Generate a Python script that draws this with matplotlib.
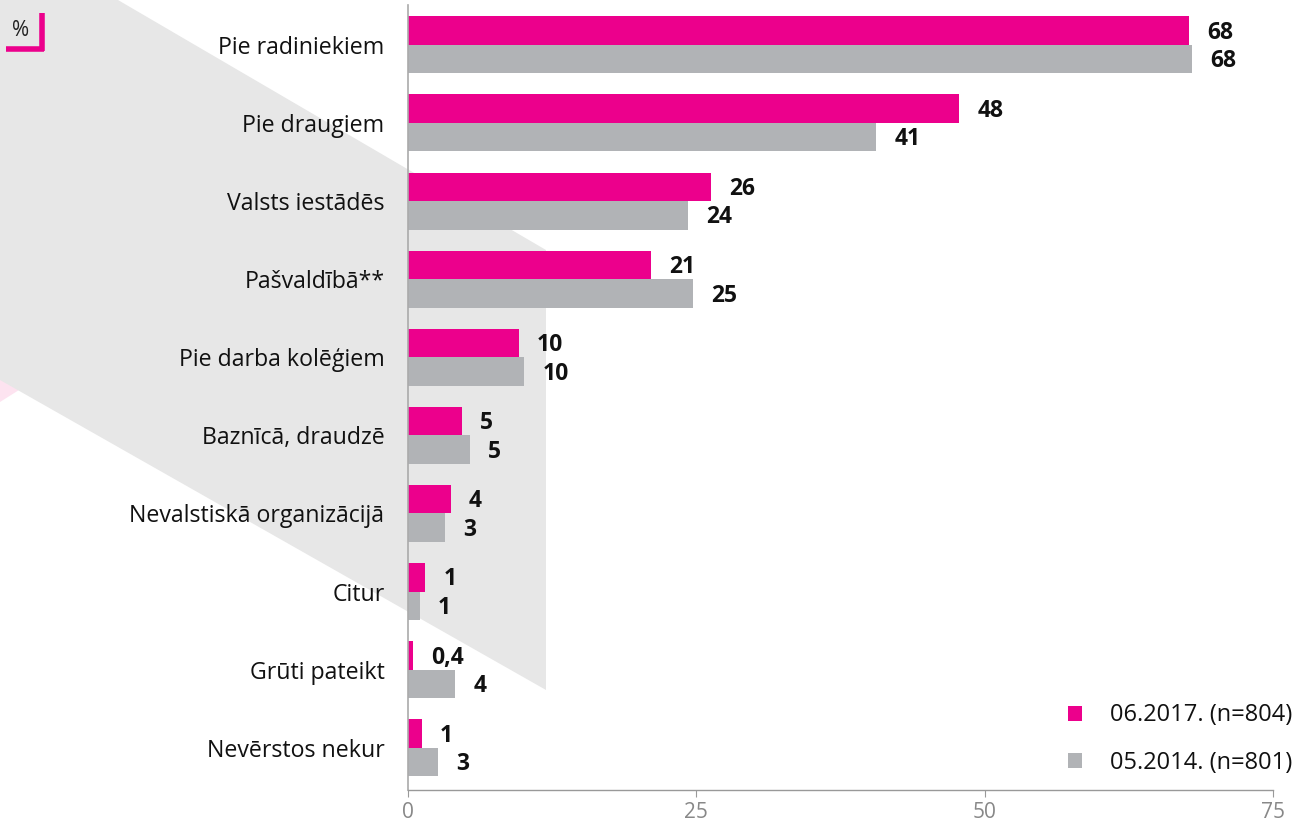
import numpy as np
import matplotlib.pyplot as plt
from matplotlib.patches import Polygon, Patch
from matplotlib.lines import Line2D

categories = ['Pie radiniekiem', 'Pie draugiem', 'Valsts iestādēs', 'Pašvaldībā**',
              'Pie darba kolēģiem', 'Baznīcā, draudzē', 'Nevalstiskā organizācijā',
              'Citur', 'Grūti pateikt', 'Nevērstos nekur']
vals_2017 = [67.7, 47.8, 26.3, 21.1, 9.6, 4.7, 3.7, 1.5, 0.4, 1.2]
vals_2014 = [68.0, 40.6, 24.3, 24.7, 10.1, 5.4, 3.2, 1.0, 4.1, 2.6]
labels_2017 = ['68', '48', '26', '21', '10', '5', '4', '1', '0,4', '1']
labels_2014 = ['68', '41', '24', '25', '10', '5', '3', '1', '4', '3']
series_names = ['06.2017. (n=804)', '05.2014. (n=801)']
xticks = [0, 25, 50, 75]

PINK = '#EC008C'
GREY = '#B1B3B6'
W, H = 1301, 825

plt.rcParams['font.family'] = ['Open Sans', 'DejaVu Sans']

fig = plt.figure(figsize=(W / 100, H / 100), dpi=100)
fig.patch.set_facecolor('white')


def px(x, y):
    return (x / W, 1 - y / H)


# decorative background shapes
pink_tri = Polygon([px(0, 368), px(19, 390), px(0, 402)], closed=True,
                   transform=fig.transFigure, facecolor='#FDE3F0', edgecolor='none', zorder=-2)
fig.add_artist(pink_tri)
grey_shape = Polygon([px(0, 0), px(118, 0), px(546, 250), px(546, 690), px(0, 380)],
                     closed=True, transform=fig.transFigure, facecolor='#E7E7E7',
                     edgecolor='none', zorder=-1)
fig.add_artist(grey_shape)

# % marker top left
fig.text(*px(21, 30), '%', fontsize=15, color='#222222', ha='center', va='center')
fig.add_artist(Line2D([px(42, 13)[0], px(42, 51)[0]], [px(42, 13)[1], px(42, 51)[1]],
                      transform=fig.transFigure, color=PINK, lw=4, solid_capstyle='butt'))
fig.add_artist(Line2D([px(6, 49)[0], px(44, 49)[0]], [px(6, 49)[1], px(44, 49)[1]],
                      transform=fig.transFigure, color=PINK, lw=4, solid_capstyle='butt'))

ax = fig.add_axes([408 / W, 1 - 790 / H, (1273 - 408) / W, (790 - 5) / H])
ax.patch.set_visible(False)

y = np.arange(len(categories))
h = 0.365
ax.barh(y - h / 2, vals_2017, height=h, color=PINK, label=series_names[0])
ax.barh(y + h / 2, vals_2014, height=h, color=GREY, label=series_names[1])

for i in range(len(categories)):
    ax.annotate(labels_2017[i], (vals_2017[i], y[i] - h / 2), xytext=(13, -1.5),
                textcoords='offset points', va='center', ha='left',
                fontsize=16.5, fontweight='bold', color='#111111')
    ax.annotate(labels_2014[i], (vals_2014[i], y[i] + h / 2), xytext=(13, -1.5),
                textcoords='offset points', va='center', ha='left',
                fontsize=16.5, fontweight='bold', color='#111111')

ax.set_xlim(0, 75)
ax.set_ylim(9.54, -0.51)
ax.set_yticks(y)
ax.set_yticklabels(categories, fontsize=16.7, color='#111111')
ax.tick_params(axis='y', length=0, pad=17)
ax.set_xticks(xticks)
ax.set_xticklabels([str(t) for t in xticks])
ax.tick_params(axis='x', length=5, color='#999999', pad=4, labelsize=15, labelcolor='#888888')

for s in ['top', 'right']:
    ax.spines[s].set_visible(False)
ax.spines['left'].set_color('#AAAAAA')
ax.spines['bottom'].set_color('#999999')
ax.spines['left'].set_linewidth(1.2)
ax.spines['bottom'].set_linewidth(1)

handles = [Patch(facecolor=PINK, edgecolor='none'), Patch(facecolor=GREY, edgecolor='none')]
leg = ax.legend(handles, series_names, loc='lower right', bbox_to_anchor=(1.047, -0.008),
                frameon=False, fontsize=17, handlelength=0.6, handleheight=0.6,
                handletextpad=1.2, labelspacing=1.0)
for t in leg.get_texts():
    t.set_color('#111111')

fig.savefig('out.png', dpi=100)
